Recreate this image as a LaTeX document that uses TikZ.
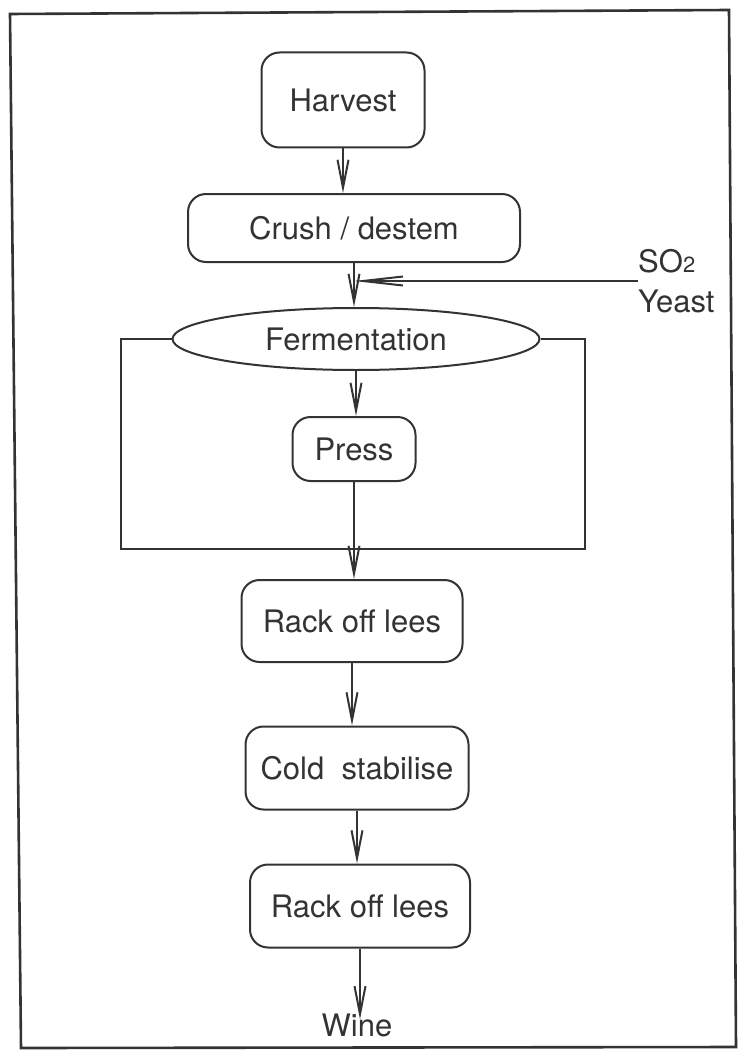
\documentclass[tikz,border=0pt]{standalone}
\usepackage{fontspec}
\setmainfont{TeX Gyre Heros}
\usetikzlibrary{shapes.geometric, arrows.meta, positioning}
\definecolor{ink}{gray}{0.2}

\begin{document}
\begin{tikzpicture}[
            x=1pt, y=1pt,
            >={Straight Barb[length=28pt, width=11pt]},
            every node/.style={font=\fontsize{31}{37}\selectfont, text=ink},
            stage/.style={rectangle, draw=ink, line width=2pt, rounded corners=18pt, inner sep=0pt},
            flow/.style={draw=ink, line width=2pt, ->}
        ]
        \useasboundingbox (0,0) rectangle (737,-1051);

        % Outer frame
        \draw[ink, line width=2.6pt] (10,-14) -- (729,-10) -- (736,-1047) -- (21,-1048) -- cycle;

        \node[stage, minimum width=163pt, minimum height=95pt] (harvest) at (343,-100) {Harvest};
        \node[stage, minimum width=332pt, minimum height=68pt] (crush) at (354,-228) {Crush / destem};
        \node[ellipse, draw=ink, line width=2pt, inner sep=0pt, minimum width=367pt, minimum height=62pt] (ferm) at (356,-339) {Fermentation};
        \node[stage, minimum width=123pt, minimum height=64pt] (press) at (354,-449) {Press};
        \node[stage, minimum width=221pt, minimum height=82pt] (rack1) at (352,-621) {Rack off lees};
        \node[stage, minimum width=223pt, minimum height=83pt] (cold) at (357,-768) {Cold\ \ stabilise};
        \node[stage, minimum width=220pt, minimum height=83pt] (rack2) at (360,-906) {Rack off lees};
        \node[inner sep=0pt] (wine) at (357,-1025) {Wine};
        \node[anchor=west, align=left, inner sep=0pt, font=\fontsize{31}{40}\selectfont] (feed) at (638,-281) {SO{\fontsize{22}{22}\selectfont 2}\\Yeast};

        % Main line
        \draw[flow] (harvest.south) -- (harvest.south |- crush.north);
        \draw[flow] (crush.south) -- (crush.south |- ferm.north);
        \draw[flow] (ferm.south) -- (ferm.south |- press.north);
        \draw[flow] (press.south) -- (press.south |- rack1.north);
        \draw[flow] (rack1.south) -- (rack1.south |- cold.north);
        \draw[flow] (cold.south) -- (cold.south |- rack2.north);
        \draw[flow, shorten >=-6pt] (rack2.south) -- (rack2.south |- wine.north);

        % Additions
        \draw[flow, -{Straight Barb[length=40pt, width=9pt]}] (feed.west) -- (feed.west -| crush.south);

        % Loop round the fermenter
        \coordinate (loopbase) at (350,-549);
        \draw[ink, line width=2pt] (ferm.west) -- ++(-51,0) |- (loopbase) -| ([xshift=44pt]ferm.east) -- (ferm.east);
    \end{tikzpicture}
\end{document}
